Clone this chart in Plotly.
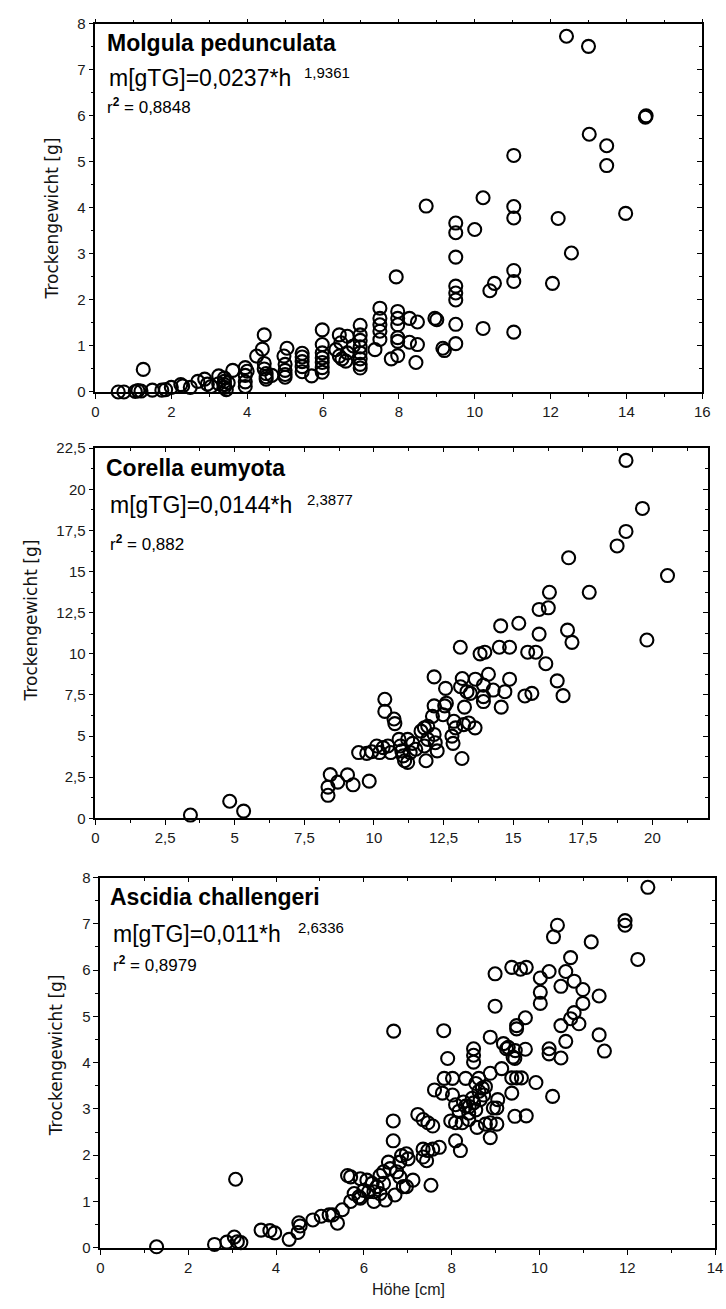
import numpy as np
import plotly.graph_objects as go

W, H = 726, 1309

# ---------------- data: height (cm) vs. dry weight (g) ----------------
molgula_h = [0.6, 0.75, 1.05, 1.12, 1.2, 1.26, 1.5, 1.75, 1.85, 2.0, 2.25, 2.3, 2.5, 2.7, 2.88,
             2.95, 3.05, 3.25, 3.25, 3.4, 3.4, 3.4, 3.4, 3.45, 3.5, 3.62, 3.95, 3.95, 3.95, 3.95, 4.0,
             4.25, 4.4, 4.45, 4.45, 4.45, 4.5, 4.5, 4.5, 4.65,
             5.05, 4.97, 5.0, 5.0, 5.0, 5.0,
             5.45, 5.45, 5.45, 5.45, 5.45, 5.7,
             5.98, 5.98, 5.98, 5.98, 5.98, 5.98, 5.98,
             6.43, 6.64, 6.47, 6.34, 6.64, 6.43, 6.6, 6.5, 6.8,
             6.98, 6.98, 6.98, 6.98, 6.98, 6.98, 6.98, 6.98,
             7.5, 7.5, 7.5, 7.5, 7.5, 7.37,
             7.93, 7.97, 7.97, 7.97, 7.97, 7.97, 7.8, 7.97,
             8.28, 8.49, 8.28, 8.49, 8.45,
             8.72, 8.95, 9.0, 9.16, 9.2,
             9.5, 9.5, 9.5, 9.5, 9.5, 9.5, 9.5, 9.5,
             10.0, 10.22, 10.22, 10.4, 10.52,
             11.03, 11.03, 11.03, 11.03, 11.03, 11.03,
             12.05, 12.2, 12.42, 12.55,
             13.0, 13.02, 13.48, 13.48, 13.98, 14.5, 14.52]
molgula_m = [0.0, 0.0, 0.01, 0.03, 0.02, 0.49, 0.04, 0.04, 0.05, 0.1, 0.16, 0.13, 0.1, 0.23, 0.28,
             0.17, 0.12, 0.35, 0.18, 0.3, 0.23, 0.16, 0.1, 0.05, 0.2, 0.47, 0.53, 0.36, 0.22, 0.12, 0.45,
             0.78, 0.93, 1.24, 0.62, 0.5, 0.4, 0.33, 0.28, 0.36,
             0.95, 0.78, 0.6, 0.47, 0.38, 0.32,
             0.84, 0.76, 0.66, 0.55, 0.44, 0.35,
             1.35, 1.03, 0.85, 0.74, 0.64, 0.53, 0.43,
             1.24, 1.21, 1.07, 0.92, 0.85, 0.78, 0.67, 0.72, 1.0,
             1.45, 1.24, 1.12, 0.98, 0.85, 0.72, 0.6, 0.52,
             1.82, 1.6, 1.46, 1.32, 1.14, 0.92,
             2.5, 1.75, 1.6, 1.46, 1.18, 1.1, 0.72, 0.79,
             1.6, 1.52, 1.08, 1.03, 0.64,
             4.04, 1.6, 1.57, 0.95, 0.9,
             3.67, 3.46, 2.93, 2.3, 2.15, 2.0, 1.47, 1.05,
             3.53, 4.22, 1.38, 2.2, 2.36,
             5.14, 4.03, 3.78, 2.64, 2.4, 1.3,
             2.36, 3.77, 7.73, 3.02,
             7.51, 5.6, 5.35, 4.92, 3.88, 5.97, 6.0]

corella_h = [3.41, 4.82, 5.32,
             8.35, 8.35, 8.43, 8.7, 9.05, 9.25, 9.83,
             9.45, 9.74, 9.92, 10.1, 10.33, 10.5, 10.2, 10.6,
             10.39, 10.39, 10.72, 10.75,
             10.9, 10.95, 11.0, 11.05, 11.1, 11.21, 11.21, 11.39, 11.5, 11.3,
             11.81, 11.93, 12.16, 12.27, 11.87, 12.2,
             11.69, 11.81, 11.93, 12.1, 12.16,
             12.16, 12.57, 12.48, 12.54, 12.6,
             12.87, 12.93, 12.8, 12.84, 13.16,
             13.22, 13.4, 13.63, 13.25,
             13.1, 13.17, 13.11, 13.34, 13.46, 13.64,
             13.81, 13.98, 13.93, 14.11, 13.93, 13.93, 14.28,
             14.5, 14.87, 14.55, 14.57, 14.7, 14.87,
             15.2, 15.42, 15.67, 15.52, 15.81, 15.93, 15.93, 16.26, 16.17, 16.3, 16.58, 16.79,
             16.95, 17.11, 16.99, 17.73, 18.73, 19.05, 19.05, 19.64, 19.8, 20.54]
corella_m = [0.2, 1.04, 0.44,
             1.4, 1.9, 2.66, 2.2, 2.64, 2.04, 2.26,
             4.0, 3.95, 4.05, 4.4, 4.3, 4.4, 4.0, 4.0,
             7.24, 6.5, 6.04, 5.76,
             4.8, 4.4, 4.1, 3.8, 3.5, 3.4, 4.8, 4.56, 4.2, 4.0,
             4.4, 4.8, 5.1, 4.1, 3.5, 4.6,
             5.3, 5.5, 5.6, 6.2, 6.84,
             8.6, 7.9, 6.3, 6.84, 7.0,
             5.9, 5.5, 5.0, 4.56, 3.64,
             5.7, 5.8, 5.5, 6.76,
             10.4, 8.5, 8.0, 7.7, 7.6, 8.46,
             10.0, 10.1, 8.1, 8.76, 7.4, 7.1, 7.8,
             10.4, 10.4, 11.7, 6.76, 7.7, 8.46,
             11.86, 7.44, 7.6, 10.1, 10.1, 11.2, 12.7, 12.8, 9.4, 13.74, 8.36, 7.46,
             11.44, 10.7, 15.84, 13.74, 16.56, 17.44, 21.76, 18.84, 10.84, 14.76]

ascidia_h = [1.28, 2.6, 2.88, 3.05, 3.12, 3.2, 3.08,
             3.66, 3.86, 3.97, 4.3, 4.5, 4.52, 4.55,
             4.84, 5.03, 5.21, 5.29, 5.4, 5.51,
             5.7, 5.92, 6.23, 6.49, 6.71, 6.97, 7.12,
             5.78, 5.89, 6.0, 6.11, 6.23, 6.37,
             5.63, 5.7, 5.92, 6.07, 6.19, 6.3, 6.45,
             6.56, 6.6, 6.45, 6.37, 6.75, 6.82, 6.9,
             6.86, 6.82, 6.97, 7.01,
             7.35, 7.43, 7.35, 7.46, 7.57, 7.72,
             7.53, 6.67, 6.67, 6.68,
             7.23, 7.35, 7.46, 7.57,
             7.98, 8.09, 8.24, 8.39, 8.58, 8.77, 8.88, 9.03,
             8.09, 8.2, 8.88, 9.44, 9.7,
             8.09, 8.17, 8.32, 8.39, 8.5, 8.65, 8.73, 8.95, 9.03,
             8.47, 8.62, 8.77, 8.27, 8.4, 8.55, 8.55, 8.7,
             7.61, 7.79, 8.02,
             7.83, 8.02, 8.32, 8.62, 8.88, 9.14,
             9.37, 9.48, 9.59, 9.92, 9.37, 10.3, 9.05,
             7.91, 8.5, 8.5, 8.5, 9.25, 9.44,
             9.18, 9.29, 9.45, 9.4, 9.68, 10.22, 10.22, 10.49,
             7.82, 8.88, 9.48, 9.48, 9.68, 10.49, 10.9, 10.71, 10.6, 11.36, 11.48,
             8.99, 10.02, 10.99, 10.79, 11.36, 10.02, 10.99, 10.49, 10.79, 10.02,
             8.99, 9.37, 9.57, 9.7, 10.22, 10.6,
             10.71, 11.18, 10.32, 10.41, 11.95, 11.95, 12.24, 12.47]
ascidia_m = [0.02, 0.07, 0.12, 0.23, 0.13, 0.11, 1.48,
             0.38, 0.37, 0.32, 0.18, 0.33, 0.54, 0.47,
             0.6, 0.68, 0.71, 0.71, 0.53, 0.82,
             1.0, 1.07, 1.0, 1.03, 1.14, 1.32, 1.46,
             1.17, 1.1, 1.24, 1.21, 1.21, 1.17,
             1.56, 1.53, 1.49, 1.46, 1.39, 1.32, 1.39,
             1.85, 1.71, 1.64, 1.56, 1.64, 1.53, 1.32,
             1.99, 1.85, 2.03, 1.92,
             1.96, 1.88, 2.13, 2.1, 2.13, 2.17,
             1.35, 2.74, 2.31, 4.68,
             2.88, 2.77, 2.7, 2.63,
             2.74, 2.7, 2.7, 2.77, 2.6, 2.67, 2.7, 2.67,
             2.31, 2.1, 2.38, 2.84, 2.85,
             3.09, 2.95, 3.06, 2.91, 3.13, 3.2, 3.3, 3.02, 3.02,
             3.23, 3.38, 3.48, 3.15, 3.05, 2.98, 3.55, 3.45,
             3.41, 3.34, 3.3,
             3.66, 3.66, 3.66, 3.66, 3.77, 3.87,
             3.67, 3.67, 3.67, 3.57, 3.34, 3.27, 3.2,
             4.09, 4.3, 4.16, 4.01, 4.3, 4.09,
             4.41, 4.33, 4.26, 4.12, 4.29, 4.3, 4.19, 4.1,
             4.69, 4.55, 4.8, 4.73, 4.97, 4.8, 4.84, 4.95, 4.46, 4.6, 4.25,
             5.22, 5.28, 5.28, 5.08, 5.44, 5.52, 5.58, 5.65, 5.76, 5.83,
             5.92, 6.06, 6.02, 6.06, 5.97, 5.97,
             6.27, 6.61, 6.72, 6.97, 7.07, 6.97, 6.23, 7.79]

# ---------------- tick labels ----------------
p1_xticks = [0, 2, 4, 6, 8, 10, 12, 14, 16]
p1_xlabels = ["0", "2", "4", "6", "8", "10", "12", "14", "16"]
p1_yticks = [0, 1, 2, 3, 4, 5, 6, 7, 8]
p1_ylabels = ["0", "1", "2", "3", "4", "5", "6", "7", "8"]

p2_xticks = [0, 2.5, 5, 7.5, 10, 12.5, 15, 17.5, 20]
p2_xlabels = ["0", "2,5", "5", "7,5", "10", "12,5", "15", "17,5", "20"]
p2_yticks = [0, 2.5, 5, 7.5, 10, 12.5, 15, 17.5, 20, 22.5]
p2_ylabels = ["0", "2,5", "5", "7,5", "10", "12,5", "15", "17,5", "20", "22,5"]

p3_xticks = [0, 2, 4, 6, 8, 10, 12, 14]
p3_xlabels = ["0", "2", "4", "6", "8", "10", "12", "14"]
p3_yticks = [0, 1, 2, 3, 4, 5, 6, 7, 8]
p3_ylabels = ["0", "1", "2", "3", "4", "5", "6", "7", "8"]

species = ["Molgula pedunculata", "Corella eumyota", "Ascidia challengeri"]
equations = ["m[gTG]=0,0237*h", "m[gTG]=0,0144*h", "m[gTG]=0,011*h"]
exponents = ["1,9361", "2,3877", "2,6336"]
r_squared = ["0,8848", "0,882", "0,8979"]
y_title = "Trockengewicht [g]"
x_title = "Höhe [cm]"

# ---------------- layout helpers ----------------
def fx(px):
    return px / W


def fy(py):
    return 1 - py / H


# pixel frames of the three plotting areas: (left, right, top, bottom)
frames = [(93, 710, 15, 388), (93, 716, 445, 820), (98, 723, 880, 1255)]
ranges = [((0, 16), (0, 8)), ((0, 22), (0, 22.5)), ((0, 14), (0, 8))]
minor_steps = [(1, 0.5), (1.25, 1.25), (1, 0.5)]
ticks = [(p1_xticks, p1_xlabels, p1_yticks, p1_ylabels),
         (p2_xticks, p2_xlabels, p2_yticks, p2_ylabels),
         (p3_xticks, p3_xlabels, p3_yticks, p3_ylabels)]
top_ticks = ["outside", "inside", "inside"]
series = [(molgula_h, molgula_m), (corella_h, corella_m), (ascidia_h, ascidia_m)]

tick_font = dict(family="Liberation Sans", size=15, color="#1a1a1a")
LW = 1.8

fig = go.Figure()
layout = dict(
    width=W, height=H, margin=dict(l=0, r=0, t=0, b=0),
    paper_bgcolor="white", plot_bgcolor="white", showlegend=False,
)
annotations = []

for i in range(3):
    left, right, top, bottom = frames[i]
    (x0, x1), (y0, y1) = ranges[i]
    mx, my = minor_steps[i]
    xt, xl, yt, yl = ticks[i]
    xminor = list(np.arange(x0, x1 + 1e-9, mx))
    yminor = list(np.arange(y0, y1 + 1e-9, my))
    n = 2 * i + 1
    xa, ya = f"xaxis{n if n > 1 else ''}", f"yaxis{n if n > 1 else ''}"
    xo, yo = f"xaxis{n + 1}", f"yaxis{n + 1}"
    xid, yid = f"x{n if n > 1 else ''}", f"y{n if n > 1 else ''}"

    layout[xa] = dict(
        domain=[fx(left), fx(right)], range=[x0, x1], anchor=yid,
        tickmode="array", tickvals=xt, ticktext=xl, tickfont=tick_font,
        ticks="outside", ticklen=5, tickwidth=1.3, tickcolor="black",
        minor=dict(tickmode="array", tickvals=xminor, ticks="outside", ticklen=3,
                   tickwidth=1, tickcolor="black"),
        showline=True, linecolor="black", linewidth=LW, mirror=True,
        showgrid=False, zeroline=False, fixedrange=True,
    )
    layout[ya] = dict(
        domain=[fy(bottom), fy(top)], range=[y0, y1], anchor=xid,
        tickmode="array", tickvals=yt, ticktext=yl, tickfont=tick_font,
        ticks="outside", ticklen=5, tickwidth=1.3, tickcolor="black",
        minor=dict(tickmode="array", tickvals=yminor, ticks="outside", ticklen=3,
                   tickwidth=1, tickcolor="black"),
        showline=True, linecolor="black", linewidth=LW, mirror=True,
        showgrid=False, zeroline=False, fixedrange=True,
    )
    # tick marks along the top and right frame edges
    layout[xo] = dict(
        overlaying=xid, side="top", anchor=f"y{n + 1}", range=[x0, x1],
        tickmode="array", tickvals=xt, showticklabels=False,
        ticks=top_ticks[i], ticklen=4, tickwidth=1.2, tickcolor="black",
        minor=dict(tickmode="array", tickvals=xminor, ticks=top_ticks[i], ticklen=3,
                   tickwidth=1, tickcolor="black"),
        showline=False, showgrid=False, zeroline=False, fixedrange=True,
    )
    layout[yo] = dict(
        overlaying=yid, side="right", anchor=f"x{n + 1}", range=[y0, y1],
        tickmode="array", tickvals=yt, showticklabels=False,
        ticks="inside", ticklen=5, tickwidth=1.2, tickcolor="black",
        minor=dict(tickmode="array", tickvals=yminor, ticks="inside", ticklen=3,
                   tickwidth=1, tickcolor="black"),
        showline=False, showgrid=False, zeroline=False, fixedrange=True,
    )

    hx, wy = series[i]
    fig.add_trace(go.Scatter(
        x=hx, y=wy, mode="markers", xaxis=xid, yaxis=yid, cliponaxis=False,
        marker=dict(symbol="circle-open", size=13, color="black",
                    line=dict(width=2.1, color="black")),
        hoverinfo="skip",
    ))
    fig.add_trace(go.Scatter(x=[], y=[], xaxis=f"x{n + 1}", yaxis=f"y{n + 1}",
                             mode="markers", hoverinfo="skip"))

# ---------------- text inside the panels ----------------
title_pos = [(103, 34), (102, 465), (106, 900)]
eq_pos = [(105, 70), (106, 503), (109, 937)]
exp_pos = [(303, 64), (306, 497), (297, 931)]
r2_pos = [(103, 98), (106, 541), (109, 968)]
ylab_pos = [(49, 212), (27, 620), (53, 1060)]

for i in range(3):
    annotations.append(dict(
        text=f"<b>{species[i]}</b>", x=fx(title_pos[i][0]), y=fy(title_pos[i][1]),
        xref="paper", yref="paper", xanchor="left", yanchor="middle", showarrow=False,
        font=dict(family="Liberation Sans", size=23, color="black")))
    annotations.append(dict(
        text=equations[i], x=fx(eq_pos[i][0]), y=fy(eq_pos[i][1]),
        xref="paper", yref="paper", xanchor="left", yanchor="middle", showarrow=False,
        font=dict(family="Liberation Sans", size=23, color="black")))
    annotations.append(dict(
        text=exponents[i], x=fx(exp_pos[i][0]), y=fy(exp_pos[i][1]),
        xref="paper", yref="paper", xanchor="left", yanchor="middle", showarrow=False,
        font=dict(family="Liberation Sans", size=15, color="black")))
    annotations.append(dict(
        text=f"r<sup><b>2</b></sup> = {r_squared[i]}", x=fx(r2_pos[i][0]), y=fy(r2_pos[i][1]),
        xref="paper", yref="paper", xanchor="left", yanchor="middle", showarrow=False,
        font=dict(family="Liberation Sans", size=17, color="black")))
    annotations.append(dict(
        text=y_title, x=fx(ylab_pos[i][0]), y=fy(ylab_pos[i][1]), textangle=-90,
        xref="paper", yref="paper", xanchor="center", yanchor="middle", showarrow=False,
        font=dict(family="DejaVu Sans", size=17, color="#111")))

annotations.append(dict(
    text=x_title, x=fx(411), y=fy(1297), xref="paper", yref="paper",
    xanchor="center", yanchor="middle", showarrow=False,
    font=dict(family="Liberation Sans", size=16, color="#1a1a1a")))

layout["annotations"] = annotations
fig.update_layout(**layout)
fig.write_html("out.html")
